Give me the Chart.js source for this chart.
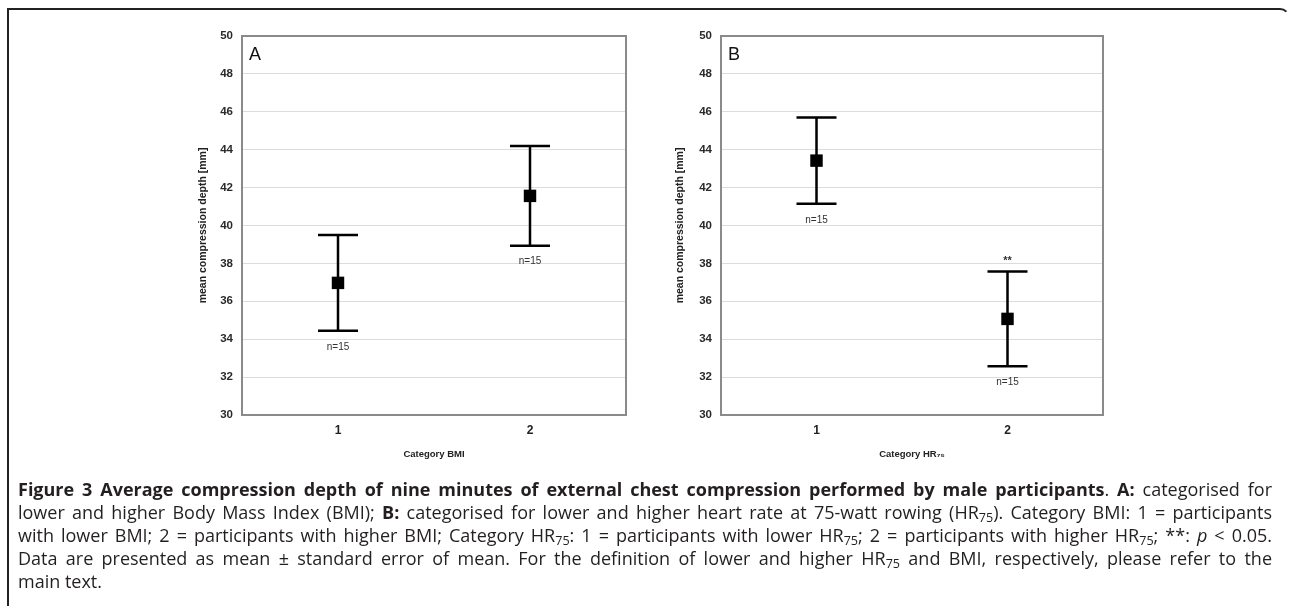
<!DOCTYPE html>
<html><head><meta charset="utf-8">
<script src="https://cdn.jsdelivr.net/npm/chart.js@4"></script>
<style>
html,body{margin:0;padding:0;background:#fff;width:1290px;height:606px;overflow:hidden;position:relative;}
#frame{position:absolute;left:7px;top:8px;width:1283px;height:640px;border-top:2px solid #222;border-left:2px solid #222;border-right:2px solid transparent;border-top-right-radius:10px;box-sizing:border-box;}
.cv{position:absolute;top:20px;width:480px;height:460px;}
#cA{left:160px;} #cB{left:640px;}
#caption{position:absolute;left:18px;top:478px;width:1254px;font-family:"Open Sans",sans-serif;font-size:18px;line-height:23px;color:#231f20;white-space:nowrap;}
#caption .l{text-align:justify;text-align-last:justify;white-space:normal;}
#caption .last{text-align:left;text-align-last:left;}
#caption sub{font-size:0.7em;vertical-align:-0.25em;line-height:0;}
</style></head>
<body>
<div id="frame"></div>
<canvas id="cA" class="cv" width="480" height="460"></canvas>
<canvas id="cB" class="cv" width="480" height="460"></canvas>
<div id="caption">
<div class="l"><b>Figure 3 Average compression depth of nine minutes of external chest compression performed by male participants</b>. <b>A:</b> categorised for</div>
<div class="l">lower and higher Body Mass Index (BMI); <b>B:</b> categorised for lower and higher heart rate at 75-watt rowing (HR<sub>75</sub>). Category BMI: 1 = participants</div>
<div class="l">with lower BMI; 2 = participants with higher BMI; Category HR<sub>75</sub>: 1 = participants with lower HR<sub>75</sub>; 2 = participants with higher HR<sub>75</sub>; **: <i>p</i> &lt; 0.05.</div>
<div class="l">Data are presented as mean ± standard error of mean. For the definition of lower and higher HR<sub>75</sub> and BMI, respectively, please refer to the</div>
<div class="l last">main text.</div>
</div>
<script>
const categories = [1, 2];
const meansA = [36.97, 41.56];
const semA = [2.53, 2.63];
const meansB = [43.42, 35.07];
const semB = [2.28, 2.50];
const nLabelsA = ['n=15', 'n=15'];
const nLabelsB = ['n=15', 'n=15'];
const sigLabelsA = ['', ''];
const sigLabelsB = ['', '**'];
const yTicks = [30, 32, 34, 36, 38, 40, 42, 44, 46, 48, 50];
const xTickLabels = ['1', '2'];

const FONT = '"Liberation Sans", Arial, sans-serif';

const errorBarPlugin = {
  id: 'errorBars',
  beforeDatasetsDraw(chart, args, opts) {
    const {ctx, chartArea, scales: {x, y}} = chart;
    ctx.save();
    ctx.strokeStyle = '#8a8a8a';
    ctx.lineWidth = 2;
    ctx.beginPath();
    ctx.moveTo(chartArea.left, chartArea.top);
    ctx.lineTo(chartArea.right, chartArea.top);
    ctx.lineTo(chartArea.right, chartArea.bottom);
    ctx.stroke();
    ctx.fillStyle = '#111';
    ctx.font = '18px ' + FONT;
    ctx.textAlign = 'left';
    ctx.textBaseline = 'middle';
    ctx.fillText(opts.letter, chartArea.left + 7, chartArea.top + 19);
    ctx.strokeStyle = '#000';
    ctx.lineWidth = 2.5;
    opts.means.forEach((m, i) => {
      const px = x.getPixelForValue(categories[i]);
      const top = y.getPixelForValue(m + opts.sem[i]);
      const bot = y.getPixelForValue(m - opts.sem[i]);
      ctx.beginPath();
      ctx.moveTo(px, top); ctx.lineTo(px, bot);
      ctx.moveTo(px - 20, top); ctx.lineTo(px + 20, top);
      ctx.moveTo(px - 20, bot); ctx.lineTo(px + 20, bot);
      ctx.stroke();
      ctx.fillStyle = '#333';
      ctx.font = '10px ' + FONT;
      ctx.textAlign = 'center';
      ctx.textBaseline = 'middle';
      ctx.fillText(opts.n[i], px, bot + 16);
      if (opts.sig[i]) {
        ctx.font = 'bold 11px ' + FONT;
        ctx.textBaseline = 'top';
        ctx.fillText(opts.sig[i], px, top - 16);
      }
    });
    ctx.restore();
  }
};

function makeChart(id, means, sem, nLabels, sig, letter, xTitle, yAxisW, yTitlePad, rightPad) {
  new Chart(document.getElementById(id), {
    type: 'scatter',
    data: {
      datasets: [{
        data: categories.map((c, i) => ({x: c, y: means[i]})),
        pointStyle: 'rect',
        pointRadius: 8.8,
        pointHoverRadius: 8.8,
        backgroundColor: '#000',
        borderColor: '#000',
        borderWidth: 0
      }]
    },
    options: {
      responsive: false,
      animation: false,
      events: [],
      layout: {padding: {top: 12, right: rightPad, bottom: 15, left: 0}},
      plugins: {
        legend: {display: false},
        tooltip: {enabled: false},
        errorBars: {means: means, sem: sem, n: nLabels, sig: sig, letter: letter}
      },
      scales: {
        x: {
          type: 'linear',
          min: 0.5, max: 2.5,
          afterBuildTicks: (s) => { s.ticks = categories.map(v => ({value: v})); },
          afterFit: (s) => { s.height = 50; },
          ticks: {
            callback: (v) => xTickLabels[categories.indexOf(v)] ?? '',
            font: {family: FONT, size: 12, weight: 'bold'},
            color: '#222',
            padding: 8,
            maxRotation: 0
          },
          grid: {display: false, drawTicks: false},
          border: {display: true, color: '#8a8a8a', width: 2},
          title: {display: true, text: xTitle, font: {family: FONT, size: 9.5, weight: 'bold'}, color: '#222', padding: {top: 0, bottom: 5}}
        },
        y: {
          type: 'linear',
          min: 30, max: 50,
          afterBuildTicks: (s) => { s.ticks = yTicks.map(v => ({value: v})); },
          afterFit: (s) => { s.width = yAxisW; },
          ticks: {
            font: {family: FONT, size: 11.5, weight: 'bold'},
            color: '#2a2a2a',
            padding: 9
          },
          grid: {color: '#dcdcdc', lineWidth: 1, drawTicks: false},
          border: {display: true, color: '#8a8a8a', width: 2},
          title: {display: true, text: 'mean compression depth [mm]', font: {family: FONT, size: 10.5, weight: 'bold'}, color: '#222', padding: {top: yTitlePad, bottom: 0}}
        }
      }
    },
    plugins: [errorBarPlugin]
  });
}

makeChart('cA', meansA, semA, nLabelsA, sigLabelsA, 'A', 'Category BMI', 82, 37, 14);
makeChart('cB', meansB, semB, nLabelsB, sigLabelsB, 'B', 'Category HR\u2087\u2085', 81, 34, 17);
</script>
</body></html>
